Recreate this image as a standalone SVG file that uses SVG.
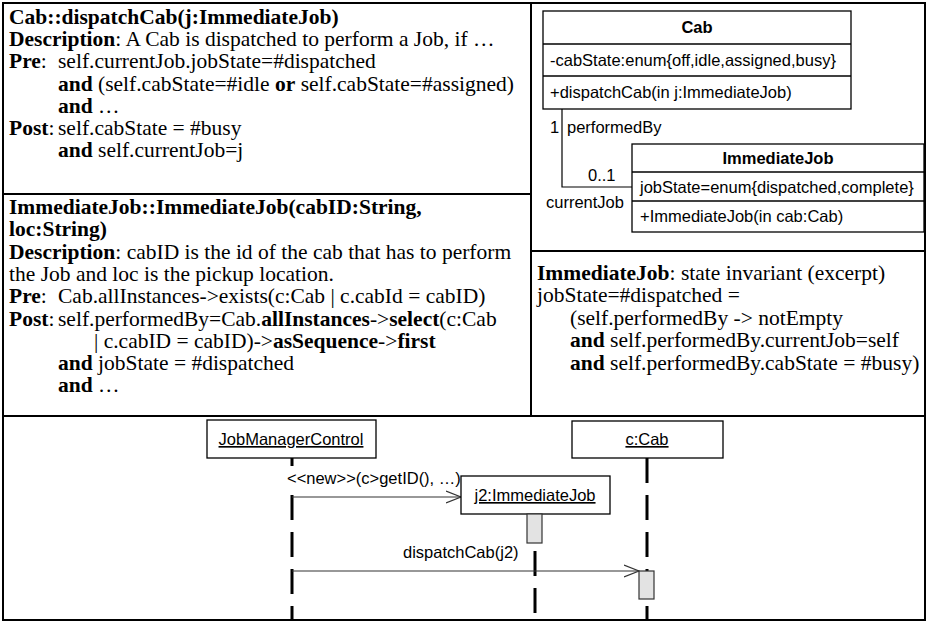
<svg xmlns="http://www.w3.org/2000/svg" width="927" height="621" viewBox="0 0 927 621">
  <style>
    .frame { fill: none; stroke: #000; stroke-width: 2; }
    .ocl { font-family: "Liberation Serif", "Times New Roman", serif; font-size: 21.5px; fill: #000; }
    .b { font-weight: bold; }
    .uml { font-family: "Liberation Sans", Arial, sans-serif; font-size: 16.5px; fill: #000; }
    .box { fill: #fff; stroke: #000; stroke-width: 1.3; }
    .sep { stroke: #000; stroke-width: 1.3; }
    .assoc { fill: none; stroke: #000; stroke-width: 1.2; }
    .life { stroke: #000; stroke-width: 3; stroke-dasharray: 25 12; }
    .msg { fill: none; stroke: #333; stroke-width: 1.2; }
    .act { fill: #e3e3e3; stroke: #333; stroke-width: 1.2; }
  </style>
  <defs>
    <marker id="open" viewBox="0 0 16 14" refX="15" refY="7" markerWidth="16" markerHeight="14" markerUnits="userSpaceOnUse" orient="auto">
      <path d="M0 1 L15 7 L0 13" fill="none" stroke="#333" stroke-width="1.2"/>
    </marker>
  </defs>

  <rect width="927" height="621" fill="#fff"/>

  <!-- panel frame -->
  <g id="panels">
    <rect class="frame" x="3" y="3" width="922" height="617"/>
    <line class="frame" x1="531" y1="3" x2="531" y2="416"/>
    <line class="frame" x1="3" y1="194" x2="531" y2="194"/>
    <line class="frame" x1="531" y1="251" x2="925" y2="251"/>
    <line class="frame" x1="3" y1="416" x2="925" y2="416"/>
  </g>

  <!-- operation spec: dispatchCab -->
  <g id="spec-dispatchCab" class="ocl">
    <text x="9" y="24" class="b">Cab::dispatchCab(j:ImmediateJob)</text>
    <text x="9" y="46"><tspan class="b">Description</tspan>: A Cab is dispatched to perform a Job, if …</text>
    <text x="9" y="68"><tspan class="b">Pre</tspan>:</text>
    <text x="58" y="68">self.currentJob.jobState=#dispatched</text>
    <text x="58" y="91"><tspan class="b">and</tspan> (self.cabState=#idle <tspan class="b">or</tspan> self.cabState=#assigned)</text>
    <text x="58" y="113" class="b">and <tspan font-weight="normal">…</tspan></text>
    <text x="9" y="135"><tspan class="b">Post</tspan>:</text>
    <text x="58" y="135">self.cabState = #busy</text>
    <text x="58" y="157"><tspan class="b">and</tspan> self.currentJob=j</text>
  </g>

  <!-- operation spec: ImmediateJob constructor -->
  <g id="spec-ImmediateJob" class="ocl">
    <text x="9" y="214" class="b">ImmediateJob::ImmediateJob(cabID:String,</text>
    <text x="9" y="236" class="b">loc:String)</text>
    <text x="9" y="259"><tspan class="b">Description</tspan>: cabID is the id of the cab that has to perform</text>
    <text x="9" y="281">the Job and loc is the pickup location.</text>
    <text x="9" y="303"><tspan class="b">Pre</tspan>:</text>
    <text x="58" y="303">Cab.allInstances-&gt;exists(c:Cab | c.cabId = cabID)</text>
    <text x="9" y="326"><tspan class="b">Post</tspan>:</text>
    <text x="58" y="326">self.performedBy=Cab.<tspan class="b">allInstances</tspan>-&gt;<tspan class="b">select</tspan>(c:Cab</text>
    <text x="94" y="348">| c.cabID = cabID)-&gt;<tspan class="b">asSequence</tspan>-&gt;<tspan class="b">first</tspan></text>
    <text x="58" y="370"><tspan class="b">and</tspan> jobState = #dispatched</text>
    <text x="58" y="392" class="b">and <tspan font-weight="normal">…</tspan></text>
  </g>

  <!-- state invariant -->
  <g id="invariant" class="ocl">
    <text x="537" y="280"><tspan class="b">ImmediateJob</tspan>: state invariant (excerpt)</text>
    <text x="537" y="302">jobState=#dispatched =</text>
    <text x="570" y="325">(self.performedBy -&gt; notEmpty</text>
    <text x="570" y="347"><tspan class="b">and</tspan> self.performedBy.currentJob=self</text>
    <text x="570" y="370"><tspan class="b">and</tspan> self.performedBy.cabState = #busy)</text>
  </g>

  <!-- class diagram connectors -->
  <g id="class-connectors">
    <polyline class="assoc" points="562,109 562,187 632,187"/>
    <text class="uml" x="550" y="133">1</text>
    <text class="uml" x="567" y="133">performedBy</text>
    <text class="uml" x="588" y="181">0..1</text>
    <text class="uml" x="546" y="208">currentJob</text>
  </g>

  <g id="class-Cab">
    <rect class="box" x="543" y="11" width="308" height="98"/>
    <line class="sep" x1="543" y1="44" x2="851" y2="44"/>
    <line class="sep" x1="543" y1="76" x2="851" y2="76"/>
    <text class="uml b" x="697" y="33" text-anchor="middle">Cab</text>
    <text class="uml" x="550" y="66">-cabState:enum{off,idle,assigned,busy}</text>
    <text class="uml" x="550" y="98">+dispatchCab(in j:ImmediateJob)</text>
  </g>

  <g id="class-ImmediateJob">
    <rect class="box" x="632" y="144" width="292" height="88"/>
    <line class="sep" x1="632" y1="172" x2="924" y2="172"/>
    <line class="sep" x1="632" y1="201" x2="924" y2="201"/>
    <text class="uml b" x="778" y="164" text-anchor="middle">ImmediateJob</text>
    <text class="uml" x="640" y="193">jobState=enum{dispatched,complete}</text>
    <text class="uml" x="640" y="222">+ImmediateJob(in cab:Cab)</text>
  </g>

  <!-- sequence diagram lifelines and messages -->
  <g id="sequence-connectors">
    <line class="life" x1="292" y1="458" x2="292" y2="620"/>
    <line class="life" x1="647" y1="458" x2="647" y2="620"/>
    <line class="life" x1="535" y1="514" x2="535" y2="620"/>
    <rect x="286" y="466" width="174" height="24" fill="#fff"/>
    <text class="uml" x="287" y="484">&lt;&lt;new&gt;&gt;(c&gt;getID(), …)</text>
    <line class="msg" x1="292" y1="497" x2="461" y2="497" marker-end="url(#open)"/>
    <text class="uml" x="403" y="558">dispatchCab(j2)</text>
    <line class="msg" x1="292" y1="571" x2="639" y2="571" marker-end="url(#open)"/>
  </g>

  <g id="obj-JobManagerControl">
    <rect class="box" x="207" y="420" width="169" height="38"/>
    <text class="uml" x="291" y="445" text-anchor="middle" text-decoration="underline">JobManagerControl</text>
  </g>

  <g id="obj-c-Cab">
    <rect class="box" x="572" y="421" width="151" height="37"/>
    <text class="uml" x="647" y="445" text-anchor="middle" text-decoration="underline">c:Cab</text>
  </g>

  <g id="obj-j2-ImmediateJob">
    <rect class="box" x="461" y="476" width="149" height="38"/>
    <text class="uml" x="535" y="501" text-anchor="middle" text-decoration="underline">j2:ImmediateJob</text>
    <rect class="act" x="527" y="514" width="15" height="29"/>
  </g>

  <g id="activation-c-Cab">
    <rect class="act" x="639" y="571" width="15" height="28"/>
  </g>
</svg>
